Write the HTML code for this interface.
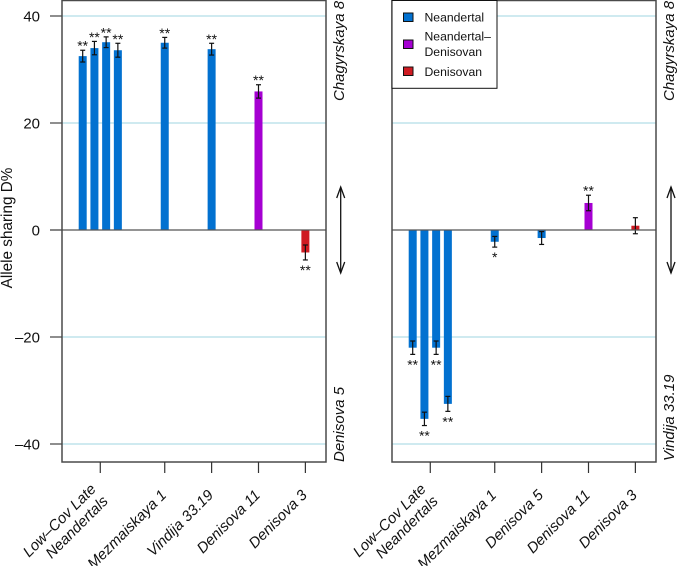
<!DOCTYPE html>
<html>
<head>
<meta charset="utf-8">
<title>Allele sharing D%</title>
<style>
html,body{margin:0;padding:0;background:#fff;}
svg{display:block;font-family:"Liberation Sans",sans-serif;}
</style>
</head>
<body>
<svg id="chart" width="677" height="566" viewBox="0 0 677 566" xmlns="http://www.w3.org/2000/svg"></svg>
<script>
var yTicks = [40, 20, 0, -20, -40];
var yTickLabels = ["40", "20", "0", "–20", "–40"];

var leftTickSlots = [1.5, 7, 11, 15, 19];
var leftTickLabels = [["Low–Cov Late", "Neandertals"], ["Mezmaiskaya 1"], ["Vindija 33.19"], ["Denisova 11"], ["Denisova 3"]];
var leftSlots = [0, 1, 2, 3, 7, 11, 15, 19];
var leftValues = [32.5, 34, 35.1, 33.6, 35, 33.8, 25.9, -4.2];
var leftErrors = [1.1, 1.25, 1.0, 1.3, 1.0, 1.1, 1.25, 1.4];
var leftStars = ["**", "**", "**", "**", "**", "**", "**", "**"];
var leftKinds = ["Neandertal", "Neandertal", "Neandertal", "Neandertal", "Neandertal", "Neandertal", "Neandertal-Denisovan", "Denisovan"];

var rightTickSlots = [1.5, 7, 11, 15, 19];
var rightTickLabels = [["Low–Cov Late", "Neandertals"], ["Mezmaiskaya 1"], ["Denisova 5"], ["Denisova 11"], ["Denisova 3"]];
var rightSlots = [0, 1, 2, 3, 7, 11, 15, 19];
var rightValues = [-22, -35.3, -22, -32.5, -2.2, -1.5, 5.05, 0.8];
var rightErrors = [1.25, 1.25, 1.25, 1.4, 1.0, 1.2, 1.45, 1.5];
var rightStars = ["**", "**", "**", "**", "*", "", "**", ""];
var rightKinds = ["Neandertal", "Neandertal", "Neandertal", "Neandertal", "Neandertal", "Neandertal", "Neandertal-Denisovan", "Denisovan"];

var legendKinds = ["Neandertal", "Neandertal-Denisovan", "Denisovan"];

var kindColors = {"Neandertal": "#0271d0", "Neandertal-Denisovan": "#a500d2", "Denisovan": "#cf1b22"};
var svg = document.getElementById('chart');
var NS = 'http://www.w3.org/2000/svg';

function mk(tag, attrs, parent) {
  var el = document.createElementNS(NS, tag);
  for (var k in attrs) el.setAttribute(k, attrs[k]);
  (parent || svg).appendChild(el);
  return el;
}
function yScale(v) { return 230 - v * 5.35; }

function drawPanel(id, left, right, firstBarX, slots, values, errors, stars, kinds, tickSlots, tickLabels, showY) {
  function xScale(s) { return firstBarX + s * 11.72; }
  var bottom = 462;
  var g = mk('g', {});
  
  

  yTicks.forEach(function (t, i) {
    var y = yScale(t);
    if (t !== 0) {
      var grid = mk('line', {x1: left, x2: right, y1: y, y2: y, stroke: '#bfe4ec', 'stroke-width': 1.5}, g);
      
      
    }
    if (showY) {
      var tick = mk('line', {x1: left - 12, x2: left, y1: y, y2: y, stroke: '#444', 'stroke-width': 1.2}, g);
      
      
      var lab = mk('text', {x: left - 22, y: y + 5.5, 'text-anchor': 'end', 'font-size': 15, fill: '#111'}, g);
      lab.textContent = yTickLabels[i];
      
      
    }
  });

  values.forEach(function (v, i) {
    var x = xScale(slots[i]);
    var y0 = yScale(0), y1 = yScale(v);
    var bar = mk('rect', {x: x - 4, width: 8, y: Math.min(y0, y1), height: Math.abs(y1 - y0), fill: kindColors[kinds[i]]}, g);
    
    

    var eg = mk('g', {stroke: '#111', 'stroke-width': 1.2, fill: 'none'}, g);
    
    
    var hi = yScale(v + errors[i]), lo = yScale(v - errors[i]);
    mk('line', {x1: x, x2: x, y1: hi, y2: lo}, eg);
    mk('line', {x1: x - 2.5, x2: x + 2.5, y1: hi, y2: hi}, eg);
    mk('line', {x1: x - 2.5, x2: x + 2.5, y1: lo, y2: lo}, eg);

    if (stars[i]) {
      var sy = v >= 0 ? hi + 0.5 : lo + 15;
      var st = mk('text', {x: x, y: sy, 'text-anchor': 'middle', 'font-size': 14, fill: '#111'}, g);
      st.textContent = stars[i];
      
      
    }
  });

  var zero = mk('line', {x1: showY ? left - 12 : left, x2: right, y1: yScale(0), y2: yScale(0), stroke: '#555', 'stroke-width': 1.3}, g);
  
  

  var frame = mk('rect', {x: left, y: 0.5, width: right - left, height: bottom - 0.5, fill: 'none', stroke: '#4a4a4a', 'stroke-width': 1.5}, g);
  
  

  tickSlots.forEach(function (s, i) {
    var x = xScale(s);
    var tick = mk('line', {x1: x, x2: x, y1: bottom, y2: bottom + 11, stroke: '#333', 'stroke-width': 1.2}, g);
    
    
    var lines = tickLabels[i];
    lines.forEach(function (line, j) {
      var shift = lines.length > 1 ? (j === 0 ? -6 : 6) : 0;
      var ax = x + 2.5 + shift, ay = 496 + shift;
      var t = mk('text', {x: ax, y: ay, 'text-anchor': 'end', 'font-size': 15, 'font-style': 'italic', fill: '#111', transform: 'rotate(-45 ' + ax + ' ' + ay + ')'}, g);
      t.textContent = line;
      
      
    });
  });
}

drawPanel('left', 62, 326, 82.7, leftSlots, leftValues, leftErrors, leftStars, leftKinds, leftTickSlots, leftTickLabels, true);
drawPanel('right', 392, 656, 412.7, rightSlots, rightValues, rightErrors, rightStars, rightKinds, rightTickSlots, rightTickLabels, false);

var yTitle = mk('text', {x: 12, y: 228, 'text-anchor': 'middle', 'font-size': 15.3, fill: '#111', transform: 'rotate(-90 12 228)'});
yTitle.textContent = 'Allele sharing D%';



function sideLabel(txt, x, y, name) {
  var t = mk('text', {x: x, y: y, 'text-anchor': 'start', 'font-size': 15, 'font-style': 'italic', fill: '#111', transform: 'rotate(-90 ' + x + ' ' + y + ')'});
  t.textContent = txt;
  
  
}
sideLabel('Chagyrskaya 8', 344, 101, 'left-top-side-label');
sideLabel('Denisova 5', 344, 462, 'left-bottom-side-label');
sideLabel('Chagyrskaya 8', 674, 101, 'right-top-side-label');
sideLabel('Vindija 33.19', 674, 461, 'right-bottom-side-label');

function arrow(x, name) {
  var g = mk('g', {stroke: '#111', 'stroke-width': 1.3, fill: 'none'});
  
  
  mk('line', {x1: x, x2: x, y1: 187, y2: 273}, g);
  mk('polyline', {points: (x - 4) + ',198 ' + x + ',187 ' + (x + 4) + ',198'}, g);
  mk('polyline', {points: (x - 4) + ',262 ' + x + ',273 ' + (x + 4) + ',262'}, g);
}
arrow(340.7, 'left-double-arrow');
arrow(671, 'right-double-arrow');

var legend = mk('g', {});


var legendBox = mk('rect', {x: 392, y: 0.5, width: 105, height: 87.8, fill: '#fff', stroke: '#111', 'stroke-width': 1}, legend);


var legendText = [[["Neandertal", 21.7]], [["Neandertal–", 40.7], ["Denisovan", 56]], [["Denisovan", 76]]];
var legendSwatchY = [13, 40, 67];
legendKinds.forEach(function (k, i) {
  var sw = mk('rect', {x: 403.5, y: legendSwatchY[i], width: 9.5, height: 8.5, fill: kindColors[k], stroke: '#111', 'stroke-width': 1}, legend);
  
  
  legendText[i].forEach(function (p) {
    var t = mk('text', {x: 424.5, y: p[1], 'font-size': 12.2, fill: '#111'}, legend);
    t.textContent = p[0];
    
    
  });
});
</script>
</body>
</html>
